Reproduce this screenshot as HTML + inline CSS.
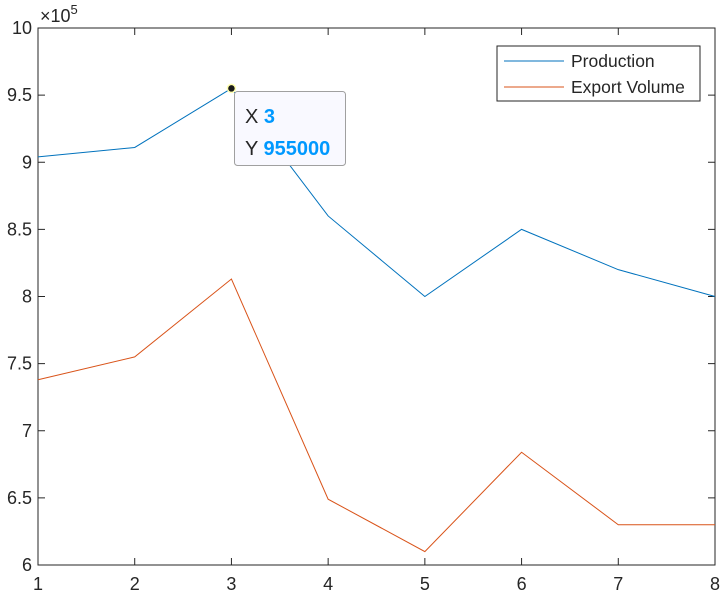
<!DOCTYPE html>
<html><head><meta charset="utf-8"><style>
body{margin:0;background:#fff;font-family:"Liberation Sans",sans-serif;}
svg text{font-family:"Liberation Sans",sans-serif;fill:#262626;}
</style></head><body>
<svg id="chart" width="724" height="596" xmlns="http://www.w3.org/2000/svg">
<rect x="0" y="0" width="724" height="596" fill="#fff"/>
<g id="plot"></g>
</svg>
<script>
const categories=[1,2,3,4,5,6,7,8];
const production=[904000,911000,955000,860000,800000,850000,820000,800000];
const exportVolume=[738000,755000,813000,649000,610000,684000,630000,630000];
const yTicks=[6,6.5,7,7.5,8,8.5,9,9.5,10];
const yTickLabels=["6","6.5","7","7.5","8","8.5","9","9.5","10"];
const xTicks=[1,2,3,4,5,6,7,8];
const L=38,R=715,T=28,B=565;
const xs=v=>L+(v-1)/(8-1)*(R-L);
const ys=v=>B-(v/1e5-6)/(10-6)*(B-T);
const g=document.getElementById('plot');
const NS="http://www.w3.org/2000/svg";
function mk(t,a,p){const e=document.createElementNS(NS,t);for(const k in a)e.setAttribute(k,a[k]);(p||g).appendChild(e);return e;}
let frame=mk('rect',{x:L,y:T,width:R-L,height:B-T,fill:'none',stroke:'#262626','stroke-width':1});


yTicks.forEach((v,i)=>{const y=B-(v-6)/4*(B-T);
mk('line',{x1:L,x2:L+7,y1:y,y2:y,stroke:'#262626'});
mk('line',{x1:R,x2:R-7,y1:y,y2:y,stroke:'#262626'});
const t=mk('text',{x:L-6,y:y+6,'text-anchor':'end','font-size':18});t.textContent=yTickLabels[i];

});
xTicks.forEach(v=>{const x=xs(v);
mk('line',{x1:x,x2:x,y1:B,y2:B-7,stroke:'#262626'});
mk('line',{x1:x,x2:x,y1:T,y2:T+7,stroke:'#262626'});
const t=mk('text',{x:x,y:B+25,'text-anchor':'middle','font-size':18});t.textContent=v;

});
const ex=mk('text',{x:40,y:22,'font-size':18});ex.innerHTML='×10<tspan dy="-8" font-size="13">5</tspan>';


function line(data,color,name){const p=mk('polyline',{points:data.map((v,i)=>xs(categories[i])+','+ys(v)).join(' '),fill:'none',stroke:color,'stroke-width':1});

}
line(production,'#0072BD','production-line');
line(exportVolume,'#D95319','export-volume-line');
const lg=mk('g',{});


mk('rect',{x:497,y:46,width:203,height:55,fill:'#fff',stroke:'#262626'},lg);
mk('line',{x1:504,x2:564,y1:61,y2:61,stroke:'#0072BD'},lg);
mk('line',{x1:504,x2:564,y1:87,y2:87,stroke:'#D95319'},lg);
let t1=mk('text',{x:571,y:67,'font-size':17.5},lg);t1.textContent='Production';
let t2=mk('text',{x:571,y:93,'font-size':17.5},lg);t2.textContent='Export Volume';
const dt=mk('g',{});


mk('rect',{x:234.5,y:91.5,width:111,height:74,rx:3,fill:'#f9f9ff',stroke:'#a0a0a0'},dt);
let d1=mk('text',{x:245,y:123,'font-size':20},dt);d1.innerHTML='X <tspan fill="#0099ff" font-weight="bold">3</tspan>';
let d2=mk('text',{x:245,y:155,'font-size':20},dt);d2.innerHTML='Y <tspan fill="#0099ff" font-weight="bold">955000</tspan>';
mk('circle',{cx:xs(3),cy:ys(production[2]),r:4,fill:'#1a1a1a',stroke:'#ffffb0','stroke-width':1.5},dt);
</script>
</body></html>
